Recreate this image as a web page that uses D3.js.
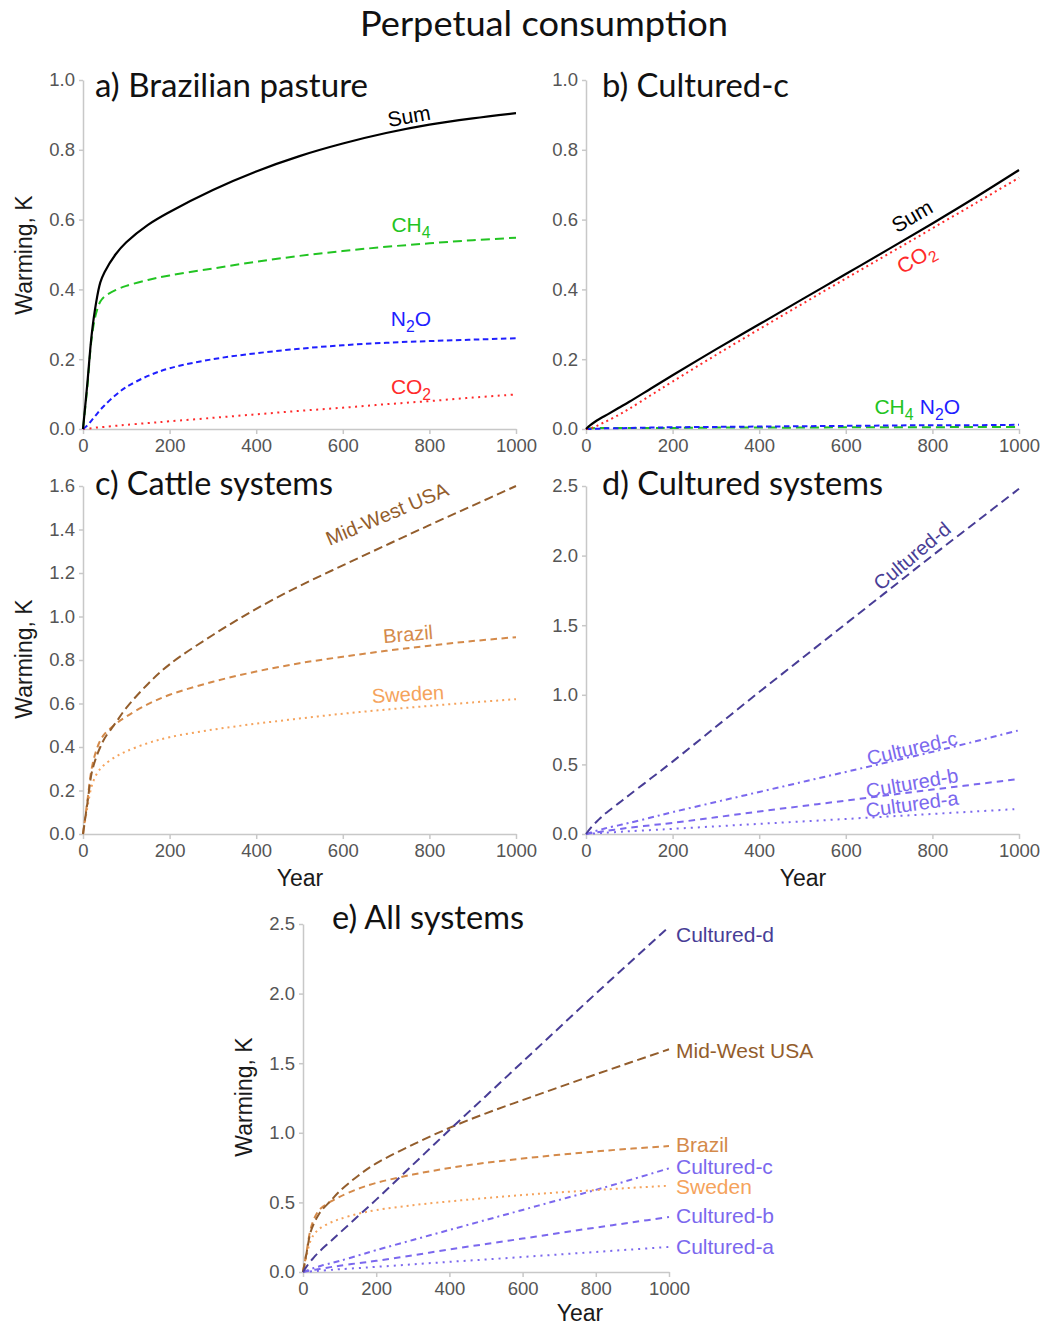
<!DOCTYPE html>
<html>
<head>
<meta charset="utf-8">
<script src="https://cdn.jsdelivr.net/npm/d3@7"></script>
<style>
body { margin: 0; background: #fff; }
svg { display: block; }
</style>
</head>
<body>
<svg id="chart" width="1046" height="1327"></svg>
<script>
var years = [0, 10, 20, 30, 40, 50, 75, 100, 150, 200, 300, 400, 500, 600, 700, 800, 900, 1000]

/* a) Brazilian pasture */
var pastureSum = [0, 0.13, 0.27, 0.36, 0.42, 0.45, 0.50, 0.535, 0.585, 0.622, 0.685, 0.738, 0.782, 0.818, 0.848, 0.872, 0.89, 0.905]
var pastureCH4 = [0, 0.12, 0.26, 0.33, 0.365, 0.38, 0.398, 0.41, 0.427, 0.44, 0.46, 0.479, 0.496, 0.51, 0.522, 0.532, 0.541, 0.548]
var pastureN2O = [0, 0.01, 0.025, 0.04, 0.055, 0.068, 0.097, 0.12, 0.152, 0.174, 0.20, 0.217, 0.23, 0.24, 0.247, 0.252, 0.256, 0.26]
var pastureCO2 = [0, 0.001, 0.002, 0.004, 0.005, 0.006, 0.009, 0.012, 0.017, 0.022, 0.032, 0.042, 0.052, 0.061, 0.071, 0.08, 0.09, 0.099]

/* b) Cultured-c */
var culturedCSum = [0, 0.011, 0.02, 0.028, 0.035, 0.042, 0.06, 0.078, 0.116, 0.154, 0.228, 0.30, 0.372, 0.444, 0.516, 0.589, 0.664, 0.742]
var culturedCCO2 = [0, 0.002, 0.006, 0.012, 0.018, 0.024, 0.04, 0.058, 0.097, 0.136, 0.212, 0.286, 0.359, 0.431, 0.503, 0.575, 0.647, 0.72]
var culturedCCH4 = [0, 0.002, 0.003, 0.003, 0.003, 0.003, 0.003, 0.003, 0.003, 0.003, 0.004, 0.004, 0.004, 0.005, 0.005, 0.005, 0.006, 0.006]
var culturedCN2O = [0, 0, 0.001, 0.001, 0.002, 0.002, 0.002, 0.003, 0.004, 0.005, 0.006, 0.007, 0.008, 0.009, 0.01, 0.011, 0.011, 0.012]

/* c) Cattle systems */
var midWestUSA = [0, 0.14, 0.28, 0.35, 0.40, 0.44, 0.51, 0.58, 0.69, 0.78, 0.915, 1.035, 1.14, 1.235, 1.328, 1.42, 1.51, 1.60]
var brazil = [0, 0.15, 0.30, 0.38, 0.43, 0.46, 0.505, 0.54, 0.597, 0.64, 0.70, 0.747, 0.785, 0.815, 0.842, 0.866, 0.887, 0.905]
var sweden = [0, 0.12, 0.22, 0.27, 0.30, 0.32, 0.355, 0.38, 0.418, 0.445, 0.48, 0.507, 0.531, 0.553, 0.572, 0.589, 0.605, 0.62]

/* d) Cultured systems */
var culturedA = [0, 0.002, 0.004, 0.006, 0.008, 0.01, 0.015, 0.02, 0.028, 0.037, 0.055, 0.073, 0.09, 0.108, 0.126, 0.144, 0.162, 0.18]
var culturedB = [0, 0.005, 0.01, 0.015, 0.02, 0.024, 0.035, 0.045, 0.063, 0.08, 0.12, 0.162, 0.201, 0.24, 0.28, 0.319, 0.357, 0.395]
var culturedC = [0, 0.01, 0.02, 0.029, 0.037, 0.045, 0.062, 0.08, 0.118, 0.157, 0.23, 0.302, 0.374, 0.446, 0.518, 0.59, 0.666, 0.745]
var culturedD = [0, 0.04, 0.075, 0.105, 0.135, 0.16, 0.22, 0.28, 0.40, 0.52, 0.77, 1.02, 1.265, 1.51, 1.755, 2.0, 2.24, 2.48]

/* axis ticks */
var xTicks = [0, 200, 400, 600, 800, 1000]
var yTicksSmall = [0.0, 0.2, 0.4, 0.6, 0.8, 1.0]
var yTicksCattle = [0.0, 0.2, 0.4, 0.6, 0.8, 1.0, 1.2, 1.4, 1.6]
var yTicksLarge = [0.0, 0.5, 1.0, 1.5, 2.0, 2.5]

var colors = {
	sum: '#000000', ch4: '#22c422', n2o: '#1f1fff', co2: '#ff2a2a',
	midWest: '#935d2c', brazil: '#d48a4a', sweden: '#f5a35c',
	culturedD: '#483d96', cultured: '#7b68ee'
}

var labelFont = "'Liberation Sans', Arial, sans-serif"
var titleFont = "Lato, 'Open Sans', sans-serif"

var svg = d3.select('#chart')

svg.append('text')
	.attr('x', 544).attr('y', 36)
	.attr('text-anchor', 'middle')
	.attr('font-family', titleFont)
	.attr('font-size', 34)
	.attr('textLength', 368).attr('lengthAdjust', 'spacingAndGlyphs')
	.attr('fill', '#111')
	.text('Perpetual consumption')

/**
 * Draws one panel: axes, lines and its title. Returns the scales so labels can be placed on them.
 */
function drawPanel(frame, yMax, yTicks, series, title) {
	var x = d3.scaleLinear().domain([0, 1000]).range([frame.left, frame.right])
	var y = d3.scaleLinear().domain([0, yMax]).range([frame.bottom, frame.top])
	var g = svg.append('g')

	var yAxis = g.append('g').attr('transform', 'translate(' + frame.left + ',0)')
		.call(d3.axisLeft(y).tickValues(yTicks).tickFormat(d3.format('.1f')).tickSizeInner(4).tickSizeOuter(0).tickPadding(4))
	var xAxis = g.append('g').attr('transform', 'translate(0,' + frame.bottom + ')')
		.call(d3.axisBottom(x).tickValues(xTicks).tickFormat(d3.format('d')).tickSizeInner(5).tickSizeOuter(0).tickPadding(5))

	/* light grey axis lines, grey tick labels */
	;[xAxis, yAxis].forEach(function(ax) {
		ax.select('.domain').attr('stroke', '#c8c8c8').attr('stroke-width', 1.5)
		ax.selectAll('.tick line').attr('stroke', '#c8c8c8').attr('stroke-width', 1.5)
		ax.selectAll('.tick text').attr('fill', '#555').attr('font-size', 18.5).attr('font-family', labelFont)
	})

	var line = d3.line()
		.x(function(d, i) { return x(years[i]) })
		.y(function(d) { return y(d) })
		.curve(d3.curveCatmullRom.alpha(0.5))

	g.selectAll('path.series').data(series).enter().append('path')
		.attr('class', 'series')
		.attr('d', function(s) { return line(s.values) })
		.attr('fill', 'none')
		.attr('stroke', function(s) { return s.color })
		.attr('stroke-width', function(s) { return s.width || 2 })
		.attr('stroke-dasharray', function(s) { return s.dash })

	g.append('text')
		.attr('x', title.x).attr('y', title.y)
		.attr('font-family', titleFont)
		.attr('font-size', 32)
		.attr('textLength', title.width).attr('lengthAdjust', 'spacingAndGlyphs')
		.attr('fill', '#111')
		.text(title.text)

	return { x: x, y: y, g: g }
}

/**
 * Writes a label where '_n' means a subscript digit, e.g. 'N_2O'
 */
function addLabel(str, x, y, angle, color, size, anchor) {
	var text = svg.append('text')
		.attr('transform', 'translate(' + x + ',' + y + ') rotate(' + angle + ')')
		.attr('text-anchor', anchor || 'middle')
		.attr('dy', '0.35em')
		.attr('font-family', labelFont)
		.attr('font-size', size)
		.attr('fill', color)
	var pieces = str.split(/_(\d)/)
	pieces.forEach(function(p, i) {
		if (p === '') return
		var sub = i % 2 == 1
		text.append('tspan').text(p)
			.attr('font-size', sub ? size * 0.75 : size)
			.attr('dy', sub ? size * 0.25 : (i > 0 ? -size * 0.25 : null))
	})
}

function axisTitle(str, x, y, angle) {
	svg.append('text')
		.attr('transform', 'translate(' + x + ',' + y + ') rotate(' + angle + ')')
		.attr('text-anchor', 'middle')
		.attr('dy', '0.35em')
		.attr('font-family', labelFont)
		.attr('font-size', 23)
		.attr('fill', '#1a1a1a')
		.text(str)
}

/* a) Brazilian pasture */
drawPanel({ left: 83, right: 516, top: 80, bottom: 429 }, 1.0, yTicksSmall, [
	{ values: pastureCO2, color: colors.co2, dash: '2,4.5' },
	{ values: pastureN2O, color: colors.n2o, dash: '5.5,3.5' },
	{ values: pastureCH4, color: colors.ch4, dash: '9,5' },
	{ values: pastureSum, color: colors.sum, width: 2.2 }
], { text: 'a) Brazilian pasture', x: 95, y: 97, width: 273 })
addLabel('Sum', 409, 116, -10, colors.sum, 21)
addLabel('CH_4', 411, 225, 0, colors.ch4, 21)
addLabel('N_2O', 411, 319, 0, colors.n2o, 21)
addLabel('CO_2', 411, 387, 0, colors.co2, 21)
axisTitle('Warming, K', 24, 255, -90)

/* b) Cultured-c */
drawPanel({ left: 586, right: 1019, top: 80, bottom: 429 }, 1.0, yTicksSmall, [
	{ values: culturedCCH4, color: colors.ch4, dash: '9,5' },
	{ values: culturedCN2O, color: colors.n2o, dash: '5.5,3.5' },
	{ values: culturedCCO2, color: colors.co2, dash: '2,3.5' },
	{ values: culturedCSum, color: colors.sum, width: 2.2 }
], { text: 'b) Cultured-c', x: 602, y: 97, width: 187 })
addLabel('Sum', 912, 216, -30, colors.sum, 21)
addLabel('CO_2', 916, 258, -30, colors.co2, 21)
addLabel('CH_4', 894, 407, 0, colors.ch4, 21)
addLabel('N_2O', 940, 407, 0, colors.n2o, 21)

/* c) Cattle systems */
drawPanel({ left: 83, right: 516, top: 486, bottom: 834 }, 1.6, yTicksCattle, [
	{ values: sweden, color: colors.sweden, dash: '2,4' },
	{ values: brazil, color: colors.brazil, dash: '6.5,4.5' },
	{ values: midWestUSA, color: colors.midWest, dash: '9,4.5' }
], { text: 'c) Cattle systems', x: 95, y: 495, width: 238 })
addLabel('Mid-West USA', 387, 514, -23, colors.midWest, 20)
addLabel('Brazil', 408, 634, -5, colors.brazil, 20)
addLabel('Sweden', 408, 694, -3, colors.sweden, 20)
axisTitle('Warming, K', 24, 659, -90)
axisTitle('Year', 300, 878, 0)

/* d) Cultured systems */
drawPanel({ left: 586, right: 1019, top: 486, bottom: 834 }, 2.5, yTicksLarge, [
	{ values: culturedA, color: colors.cultured, dash: '2,5' },
	{ values: culturedB, color: colors.cultured, dash: '6.5,5' },
	{ values: culturedC, color: colors.cultured, dash: '6,4,2,4' },
	{ values: culturedD, color: colors.culturedD, dash: '9,5' }
], { text: 'd) Cultured systems', x: 602, y: 495, width: 281 })
addLabel('Cultured-d', 912, 556, -40, colors.culturedD, 20)
addLabel('Cultured-c', 912, 748, -13, colors.cultured, 20)
addLabel('Cultured-b', 912, 783, -10, colors.cultured, 20)
addLabel('Cultured-a', 912, 804, -8, colors.cultured, 20)
axisTitle('Year', 803, 878, 0)

/* e) All systems */
var allSeries = [
	{ name: 'Cultured-a', values: culturedA, color: colors.cultured, dash: '2,5', dy: 0 },
	{ name: 'Cultured-b', values: culturedB, color: colors.cultured, dash: '6.5,5', dy: -1 },
	{ name: 'Cultured-c', values: culturedC, color: colors.cultured, dash: '6,4,2,4', dy: -2 },
	{ name: 'Sweden', values: sweden, color: colors.sweden, dash: '2,4', dy: 1 },
	{ name: 'Brazil', values: brazil, color: colors.brazil, dash: '6.5,4.5', dy: -1 },
	{ name: 'Mid-West USA', values: midWestUSA, color: colors.midWest, dash: '9,4.5', dy: 1 },
	{ name: 'Cultured-d', values: culturedD, color: colors.culturedD, dash: '9,5', dy: 8 }
]
var panelE = drawPanel({ left: 303, right: 669, top: 924, bottom: 1272 }, 2.5, yTicksLarge, allSeries,
	{ text: 'e) All systems', x: 332, y: 929, width: 192 })
allSeries.forEach(function(s) {
	addLabel(s.name, panelE.x(1000) + 7, panelE.y(s.values[s.values.length - 1]) + s.dy, 0, s.color, 21, 'start')
})
axisTitle('Warming, K', 244, 1097, -90)
axisTitle('Year', 580, 1313, 0)
</script>
</body>
</html>
